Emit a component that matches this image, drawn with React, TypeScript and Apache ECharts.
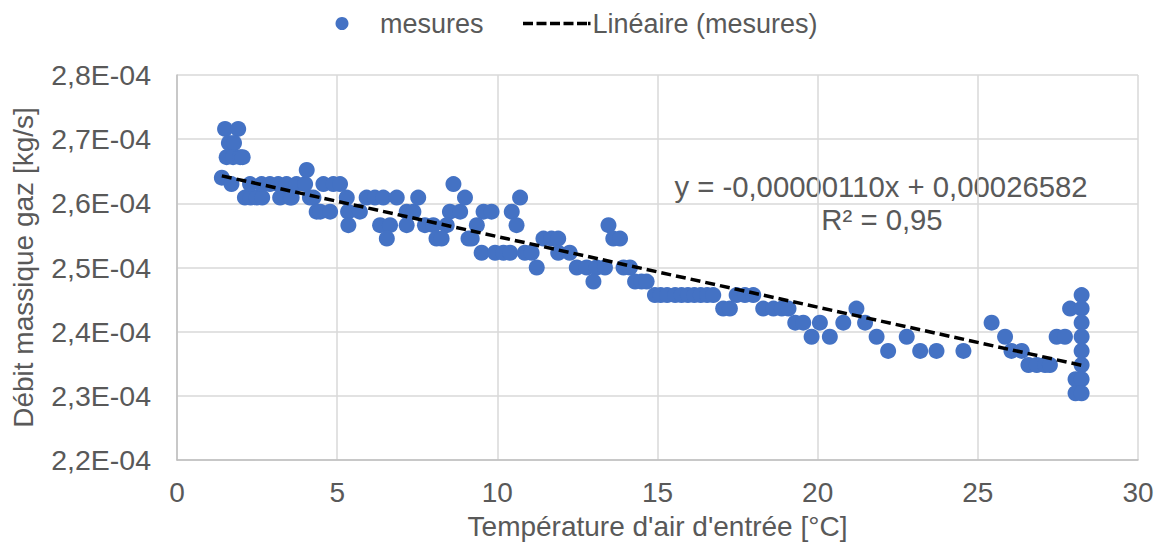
import React, { useEffect, useRef } from "react";
import * as echarts from "echarts";

// Température d'air d'entrée [°C]
const tempC: number[] = [
  1.40, 1.50, 1.91, 1.62, 1.78, 1.55, 1.75, 1.97, 2.05, 1.70,
  2.12, 2.30, 2.49, 2.66, 3.22, 3.53, 3.58, 4.15, 4.26,
  2.28, 2.64, 2.90, 3.16, 3.42, 3.73, 4.00, 4.57, 4.88, 5.09, 8.63,
  4.05,
  4.36, 4.47, 4.78, 5.34, 5.71, 7.17, 7.38, 8.52, 8.84, 9.57, 9.82, 10.45,
  5.30, 5.92, 6.18, 6.44, 6.86, 7.53, 8.99, 10.71,
  5.35, 6.34, 6.65, 7.17, 7.74, 8.00, 8.42, 9.36, 10.60, 13.47,
  6.55, 8.10, 8.26, 9.10, 9.20, 11.44, 11.69, 11.90, 13.62, 13.83,
  9.51, 9.93, 10.19, 10.40, 10.86, 11.07, 11.90, 12.26,
  11.23, 12.48, 12.79, 13.10, 13.36, 13.94, 14.14,
  13.00, 14.30, 14.50, 14.66,
  14.92, 15.10, 15.30, 15.55, 15.75, 15.95, 16.15, 16.35, 16.55, 16.74, 17.47, 17.73, 17.99, 28.24,
  17.05, 17.26, 18.30, 18.62, 18.88, 19.09, 21.21, 27.88, 28.24,
  19.30, 19.55, 20.07, 20.80, 21.48, 25.43, 28.24,
  19.81, 20.38, 21.84, 22.78, 25.85, 27.46, 27.72, 28.24,
  22.20, 23.20, 23.71, 24.55, 26.05, 26.37, 28.24,
  26.58, 26.84, 27.10, 27.25, 28.24,
  28.05, 28.24,
  28.05, 28.24,
];

// Débit massique gaz [kg/s]
const debit: number[] = [
  2.640e-4, 2.716e-4, 2.716e-4, 2.694e-4, 2.694e-4, 2.672e-4, 2.672e-4, 2.672e-4, 2.672e-4, 2.630e-4,
  2.609e-4, 2.609e-4, 2.609e-4, 2.609e-4, 2.609e-4, 2.609e-4, 2.609e-4, 2.609e-4, 2.609e-4,
  2.630e-4, 2.630e-4, 2.630e-4, 2.630e-4, 2.630e-4, 2.630e-4, 2.630e-4, 2.630e-4, 2.630e-4, 2.630e-4, 2.630e-4,
  2.652e-4,
  2.587e-4, 2.587e-4, 2.587e-4, 2.587e-4, 2.587e-4, 2.587e-4, 2.587e-4, 2.587e-4, 2.587e-4, 2.587e-4, 2.587e-4, 2.587e-4,
  2.609e-4, 2.609e-4, 2.609e-4, 2.609e-4, 2.609e-4, 2.609e-4, 2.609e-4, 2.609e-4,
  2.566e-4, 2.566e-4, 2.566e-4, 2.566e-4, 2.566e-4, 2.566e-4, 2.566e-4, 2.566e-4, 2.566e-4, 2.566e-4,
  2.545e-4, 2.545e-4, 2.545e-4, 2.545e-4, 2.545e-4, 2.545e-4, 2.545e-4, 2.545e-4, 2.545e-4, 2.545e-4,
  2.523e-4, 2.523e-4, 2.523e-4, 2.523e-4, 2.523e-4, 2.523e-4, 2.523e-4, 2.523e-4,
  2.500e-4, 2.500e-4, 2.500e-4, 2.500e-4, 2.500e-4, 2.500e-4, 2.500e-4,
  2.478e-4, 2.478e-4, 2.478e-4, 2.478e-4,
  2.457e-4, 2.457e-4, 2.457e-4, 2.457e-4, 2.457e-4, 2.457e-4, 2.457e-4, 2.457e-4, 2.457e-4, 2.457e-4, 2.457e-4, 2.457e-4, 2.457e-4, 2.457e-4,
  2.436e-4, 2.436e-4, 2.436e-4, 2.436e-4, 2.436e-4, 2.436e-4, 2.436e-4, 2.436e-4, 2.436e-4,
  2.414e-4, 2.414e-4, 2.414e-4, 2.414e-4, 2.414e-4, 2.414e-4, 2.414e-4,
  2.392e-4, 2.392e-4, 2.392e-4, 2.392e-4, 2.392e-4, 2.392e-4, 2.392e-4, 2.392e-4,
  2.370e-4, 2.370e-4, 2.370e-4, 2.370e-4, 2.370e-4, 2.370e-4, 2.370e-4,
  2.348e-4, 2.348e-4, 2.348e-4, 2.348e-4, 2.348e-4,
  2.326e-4, 2.326e-4,
  2.304e-4, 2.304e-4,
];

// Linear trend (Excel): y = slope * x + intercept
const trendSlope = -0.0000011;
const trendIntercept = 0.00026582;
const trendRange: number[] = [1.4, 28.24];
const equationLines: string[] = ["y = -0,00000110x + 0,00026582", "R² = 0,95"];

const xTicks = { min: 0, max: 30, interval: 5 };
const yTicks = { min: 2.2e-4, max: 2.8e-4, interval: 1e-5 };

const FONT = "'Liberation Sans', Arial, sans-serif";
const TXT = "#595959";
// dashed legend icon for the trend line (5 dashes + dot)
const DASH_ICON =
  "path://M0,0h10v3.5h-10zM13.5,0h10v3.5h-10zM27,0h10v3.5h-10zM40.5,0h10v3.5h-10zM54,0h10v3.5h-10zM65,0h2.5v3.5h-2.5z";

export default function App() {
  const ref = useRef<HTMLDivElement>(null);
  useEffect(() => {
    if (!ref.current) return;
    const chart = echarts.init(ref.current, undefined, { renderer: "svg" });
    const scatterData = tempC.map((x, i) => [x, debit[i]]);
    const trendData = trendRange.map((x) => [x, trendSlope * x + trendIntercept]);
    chart.setOption({
      animation: false,
      textStyle: { fontFamily: FONT },
      grid: { left: 177, right: 23, top: 75, bottom: 94, containLabel: false },
      legend: [
        {
          data: [{ name: "mesures", icon: "circle" }],
          left: 330.5,
          top: 5,
          itemWidth: 13,
          itemHeight: 13,
          textStyle: { fontSize: 27, color: TXT, fontFamily: FONT, padding: [0, 0, 0, 26.5] },
        },
        {
          data: [{ name: "Linéaire (mesures)", icon: DASH_ICON, itemStyle: { color: "#000000" } }],
          left: 518,
          top: 5,
          itemWidth: 67.5,
          itemHeight: 3.5,
          textStyle: { fontSize: 27, color: TXT, fontFamily: FONT, padding: [0, 0, 0, -3] },
        },
      ],
      xAxis: {
        type: "value",
        min: xTicks.min,
        max: xTicks.max,
        interval: xTicks.interval,
        name: "Température d'air d'entrée [°C]",
        nameLocation: "middle",
        nameGap: 52,
        nameTextStyle: { fontSize: 28, color: TXT, fontFamily: FONT },
        axisLine: { show: true, lineStyle: { color: "#bfbfbf", width: 1.5 } },
        axisTick: { show: false },
        axisLabel: { fontSize: 28, color: TXT, margin: 18, fontFamily: FONT },
        splitLine: { show: true, lineStyle: { color: "#d9d9d9", width: 1.5 } },
      },
      yAxis: {
        type: "value",
        min: yTicks.min,
        max: yTicks.max,
        interval: yTicks.interval,
        name: "Débit massique gaz [kg/s]",
        nameLocation: "middle",
        nameGap: 140,
        nameTextStyle: { fontSize: 28, color: TXT, fontFamily: FONT },
        axisLine: { show: true, lineStyle: { color: "#bfbfbf", width: 1.5 } },
        axisTick: { show: false },
        axisLabel: {
          fontSize: 28.5,
          color: TXT,
          margin: 26,
          fontFamily: FONT,
          formatter: (v: number) => (v * 1e4).toFixed(1).replace(".", ",") + "E-04",
        },
        splitLine: { show: true, lineStyle: { color: "#d9d9d9", width: 1.5 } },
      },
      series: [
        {
          name: "mesures",
          type: "scatter",
          data: scatterData,
          symbol: "circle",
          symbolSize: 16,
          itemStyle: { color: "#4472C4", opacity: 1 },
          z: 2,
        },
        {
          name: "Linéaire (mesures)",
          type: "line",
          data: trendData,
          symbol: "none",
          lineStyle: { color: "#000000", width: 3.5, type: [10, 5] },
          itemStyle: { color: "#000000" },
          z: 3,
        },
      ],
      graphic: [
        {
          type: "text",
          x: 881,
          y: 186,
          style: {
            text: equationLines[0],
            fontSize: 29.3,
            fontFamily: FONT,
            fill: TXT,
            textAlign: "center",
            textVerticalAlign: "middle",
          },
        },
        {
          type: "text",
          x: 882,
          y: 219,
          style: {
            text: equationLines[1],
            fontSize: 29.3,
            fontFamily: FONT,
            fill: TXT,
            textAlign: "center",
            textVerticalAlign: "middle",
          },
        },
      ],
    });
    return () => chart.dispose();
  }, []);
  return <div ref={ref} style={{ width: 1161, height: 554, position: "absolute", left: 0, top: 0 }} />;
}
